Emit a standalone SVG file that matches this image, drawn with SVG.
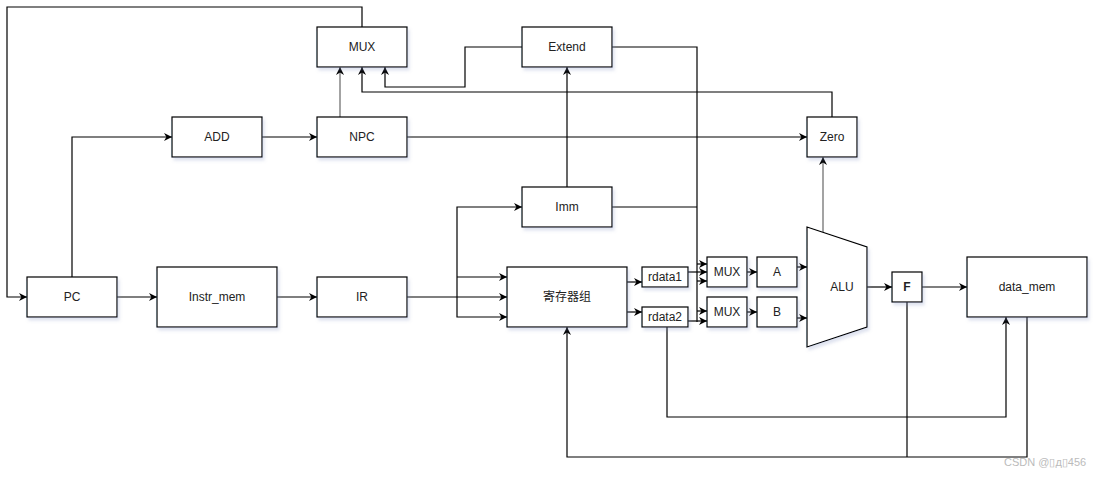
<svg xmlns="http://www.w3.org/2000/svg" width="1099" height="477" viewBox="0 0 1099 477">
<style>
.box{fill:#fff;stroke:#000;stroke-width:1.2;filter:url(#sh)}
.t{font-family:"Liberation Sans","Noto Sans CJK SC",Arial,sans-serif;font-size:12px;fill:#222;text-anchor:middle;dominant-baseline:central}
.c{fill:none;stroke:#000;stroke-width:1.2}
.g{stroke:#666}
.a{marker-end:url(#ar)}
</style>
<defs>
<filter id="sh" x="-10%" y="-10%" width="130%" height="140%">
<feDropShadow dx="2" dy="3" stdDeviation="1.5" flood-color="#8090c0" flood-opacity="0.25"/>
</filter>
<marker id="ar" viewBox="0 0 10 10" refX="10" refY="5" markerWidth="8" markerHeight="8" markerUnits="userSpaceOnUse" orient="auto">
<path d="M0,0 L10,5 L0,10 L3,5 Z" fill="#000"/>
</marker>
</defs>
<rect width="1099" height="477" fill="#fff"/>
<g id="connectors">
<path class="c a" d="M117,297 H157"/>
<path class="c a" d="M277,297 H317"/>
<path class="c a" d="M407,297 H507"/>
<path class="c a" d="M457,297 V207 H522"/>
<path class="c a" d="M457,277 H507"/>
<path class="c a" d="M457,297 V317 H507"/>
<path class="c a" d="M72,277 V137 H172"/>
<path class="c a" d="M262,137 H317"/>
<path class="c g a" d="M340,117 V67"/>
<path class="c a" d="M407,137 H807"/>
<path class="c a" d="M832,117 V92 H362 V67"/>
<path class="c a" d="M522,47 H465 V87 H385 V67"/>
<path class="c a" d="M567,187 V67"/>
<path class="c" d="M612,47 H697 V322"/>
<path class="c" d="M612,207 H697"/>
<path class="c a" d="M697,264 H707"/>
<path class="c a" d="M697,281 H707"/>
<path class="c a" d="M697,311 H707"/>
<path class="c a" d="M688,272 H707"/>
<path class="c a" d="M688,321 H707"/>
<path class="c a" d="M627,282 H642"/>
<path class="c a" d="M627,312 H642"/>
<path class="c a" d="M747,272 H757"/>
<path class="c a" d="M747,312 H757"/>
<path class="c a" d="M793,267 H807"/>
<path class="c a" d="M793,318 H807"/>
<path class="c a" d="M867,287 H892"/>
<path class="c g a" d="M823,232 V157"/>
<path class="c a" d="M922,287 H967"/>
<path class="c" d="M907,302 V457"/>
<path class="c a" d="M1027,317 V457 H567 V327"/>
<path class="c a" d="M667,327 V417 H1006 V317"/>
<path class="c a" d="M362,27 V7 H7 V297 H27"/>
</g>
<g id="MUX_top"><rect class="box" x="317" y="27" width="90" height="40"/><text class="t" x="362" y="47">MUX</text></g>
<g id="Extend"><rect class="box" x="522" y="27" width="90" height="40"/><text class="t" x="567" y="47">Extend</text></g>
<g id="ADD"><rect class="box" x="172" y="117" width="90" height="40"/><text class="t" x="217" y="137">ADD</text></g>
<g id="NPC"><rect class="box" x="317" y="117" width="90" height="40"/><text class="t" x="362" y="137">NPC</text></g>
<g id="Zero"><rect class="box" x="807" y="117" width="50" height="40"/><text class="t" x="832" y="137">Zero</text></g>
<g id="Imm"><rect class="box" x="522" y="187" width="90" height="40"/><text class="t" x="567" y="207">Imm</text></g>
<g id="PC"><rect class="box" x="27" y="277" width="90" height="40"/><text class="t" x="72" y="297">PC</text></g>
<g id="Instr_mem"><rect class="box" x="157" y="267" width="120" height="60"/><text class="t" x="217" y="297">Instr_mem</text></g>
<g id="IR"><rect class="box" x="317" y="277" width="90" height="40"/><text class="t" x="362" y="297">IR</text></g>
<g id="RegFile"><rect class="box" x="507" y="267" width="120" height="60"/><text class="t" x="567" y="297">寄存器组</text></g>
<g id="rdata1"><rect class="box" x="642" y="267" width="46" height="20"/><text class="t" x="665" y="277">rdata1</text></g>
<g id="rdata2"><rect class="box" x="642" y="307" width="46" height="20"/><text class="t" x="665" y="317">rdata2</text></g>
<g id="MUX1"><rect class="box" x="707" y="257" width="40" height="30"/><text class="t" x="727" y="272">MUX</text></g>
<g id="MUX2"><rect class="box" x="707" y="297" width="40" height="30"/><text class="t" x="727" y="312">MUX</text></g>
<g id="A"><rect class="box" x="757" y="257" width="40" height="30"/><text class="t" x="777" y="272">A</text></g>
<g id="B"><rect class="box" x="757" y="297" width="40" height="30"/><text class="t" x="777" y="312">B</text></g>
<g id="ALU"><path class="box" d="M807,227 L867,247 L867,327 L807,347 Z"/><text class="t" x="842" y="287">ALU</text></g>
<g id="F"><rect class="box" x="892" y="272" width="30" height="30"/><text class="t" x="907" y="287" font-weight="bold">F</text></g>
<g id="data_mem"><rect class="box" x="967" y="257" width="120" height="60"/><text class="t" x="1027" y="287">data_mem</text></g>
<text x="1004" y="466" font-family="Liberation Sans,Noto Sans CJK SC,sans-serif" font-size="11" fill="#bbb">CSDN @▯д▯456</text>
</svg>
